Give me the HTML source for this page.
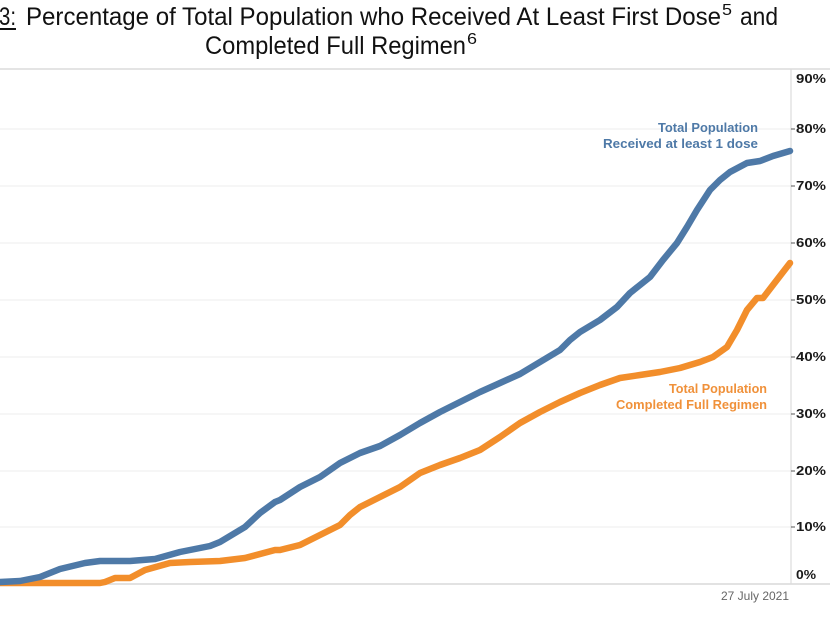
<!DOCTYPE html>
<html>
<head>
<meta charset="utf-8">
<style>
  html,body{margin:0;padding:0;background:#fff;}
  svg{display:block;}
</style>
</head>
<body>
<svg width="830" height="622" viewBox="0 0 830 622" xmlns="http://www.w3.org/2000/svg">
  <rect x="0" y="0" width="830" height="622" fill="#fff"/>
  <!-- Title -->
  <g font-family="'Liberation Sans', Arial, sans-serif" fill="#111">
    <text x="-1" y="25" font-size="25" textLength="17" lengthAdjust="spacingAndGlyphs">3:</text>
    <line x1="0" y1="29" x2="16" y2="29" stroke="#111" stroke-width="2"/>
    <text x="26" y="25" font-size="25" textLength="695" lengthAdjust="spacingAndGlyphs">Percentage of Total Population who Received At Least First Dose</text>
    <text x="722" y="15" font-size="16" textLength="10" lengthAdjust="spacingAndGlyphs">5</text>
    <text x="740" y="25" font-size="25" textLength="38" lengthAdjust="spacingAndGlyphs">and</text>
    <text x="205" y="54" font-size="25" textLength="261" lengthAdjust="spacingAndGlyphs">Completed Full Regimen</text>
    <text x="467" y="44" font-size="16" textLength="10" lengthAdjust="spacingAndGlyphs">6</text>
  </g>

  <!-- frame -->
  <line x1="0" y1="69" x2="830" y2="69" stroke="#dcdcdc" stroke-width="1.5"/>
  <!-- gridlines -->
  <g stroke="#ececec" stroke-width="1">
    <line x1="0" y1="129" x2="791" y2="129"/>
    <line x1="0" y1="186" x2="791" y2="186"/>
    <line x1="0" y1="243" x2="791" y2="243"/>
    <line x1="0" y1="300" x2="791" y2="300"/>
    <line x1="0" y1="357" x2="791" y2="357"/>
    <line x1="0" y1="414" x2="791" y2="414"/>
    <line x1="0" y1="471" x2="791" y2="471"/>
    <line x1="0" y1="527" x2="791" y2="527"/>
  </g>
  <line x1="0" y1="584" x2="830" y2="584" stroke="#d8d8d8" stroke-width="1.5"/>
  <line x1="791" y1="69" x2="791" y2="584" stroke="#dcdcdc" stroke-width="1.2"/>
  <!-- ticks -->
  <g stroke="#555" stroke-width="1">
    <line x1="791" y1="129" x2="795" y2="129"/>
    <line x1="791" y1="186" x2="795" y2="186"/>
    <line x1="791" y1="243" x2="795" y2="243"/>
    <line x1="791" y1="300" x2="795" y2="300"/>
    <line x1="791" y1="357" x2="795" y2="357"/>
    <line x1="791" y1="414" x2="795" y2="414"/>
    <line x1="791" y1="471" x2="795" y2="471"/>
    <line x1="791" y1="527" x2="795" y2="527"/>
  </g>
  <!-- y labels -->
  <g font-family="'Liberation Sans', Arial, sans-serif" font-weight="bold" font-size="12.5" fill="#1a1a1a">
    <text x="796" y="83" textLength="30" lengthAdjust="spacingAndGlyphs">90%</text>
    <text x="796" y="133" textLength="30" lengthAdjust="spacingAndGlyphs">80%</text>
    <text x="796" y="190" textLength="30" lengthAdjust="spacingAndGlyphs">70%</text>
    <text x="796" y="247" textLength="30" lengthAdjust="spacingAndGlyphs">60%</text>
    <text x="796" y="304" textLength="30" lengthAdjust="spacingAndGlyphs">50%</text>
    <text x="796" y="361" textLength="30" lengthAdjust="spacingAndGlyphs">40%</text>
    <text x="796" y="418" textLength="30" lengthAdjust="spacingAndGlyphs">30%</text>
    <text x="796" y="475" textLength="30" lengthAdjust="spacingAndGlyphs">20%</text>
    <text x="796" y="531" textLength="30" lengthAdjust="spacingAndGlyphs">10%</text>
    <text x="796" y="579" textLength="20" lengthAdjust="spacingAndGlyphs">0%</text>
  </g>
  <!-- date -->
  <text x="721" y="600" font-family="'Liberation Sans', Arial, sans-serif" font-size="12" fill="#666" textLength="68" lengthAdjust="spacingAndGlyphs">27 July 2021</text>

  <!-- series -->
  <polyline fill="none" stroke="#f28e2b" stroke-width="6.5" stroke-linejoin="round" stroke-linecap="round"
    points="0,583 100,583 105,582 115,578 130,578 145,570 170,563 190,562 220,561 245,558 275,550 280,550 300,545 320,535 340,525 350,515 360,507 380,497 400,487 420,473 440,465 460,458 480,450 500,437 520,423 540,412 560,402 580,393 600,385 620,378 640,375 660,372 680,368 700,362 713,357 727,347 737,330 747,310 757,298 763,298 773,285 790,263"/>
  <polyline fill="none" stroke="#4e79a7" stroke-width="6.5" stroke-linejoin="round" stroke-linecap="round"
    points="0,582 20,581 40,577 60,569 85,563 100,561 130,561 155,559 180,552 210,546 220,542 245,527 260,513 275,502 280,500 300,487 320,477 340,463 360,453 380,446 400,435 420,423 440,412 460,402 480,392 500,383 520,374 540,362 560,350 570,340 580,332 600,320 617,307 630,293 650,277 663,260 677,243 687,227 697,210 710,190 720,180 730,172 747,163 760,161 773,156 790,151"/>

  <!-- series labels -->
  <g font-family="'Liberation Sans', Arial, sans-serif" font-weight="bold" font-size="12.5" text-anchor="end">
    <text x="758" y="132" fill="#4e79a7" textLength="100" lengthAdjust="spacingAndGlyphs">Total Population</text>
    <text x="758" y="148" fill="#4e79a7" textLength="155" lengthAdjust="spacingAndGlyphs">Received at least 1 dose</text>
    <text x="767" y="393" fill="#f0913a" textLength="98" lengthAdjust="spacingAndGlyphs">Total Population</text>
    <text x="767" y="409" fill="#f0913a" textLength="151" lengthAdjust="spacingAndGlyphs">Completed Full Regimen</text>
  </g>
</svg>
</body>
</html>
